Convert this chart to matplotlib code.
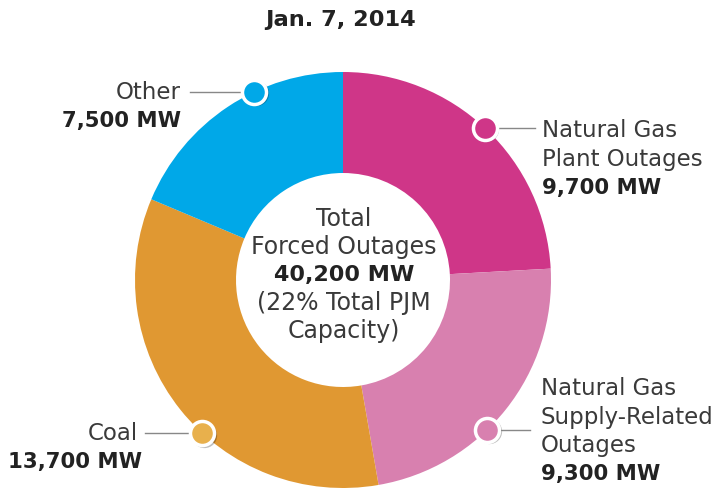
import matplotlib
matplotlib.use("Agg")
import numpy as np
import matplotlib.pyplot as plt

# data
categories = ["Natural Gas\nPlant Outages", "Natural Gas\nSupply-Related\nOutages", "Coal", "Other"]
values_mw = [9700, 9300, 13700, 7500]
value_labels = ["9,700 MW", "9,300 MW", "13,700 MW", "7,500 MW"]
total_label = "40,200 MW"
title = "Jan. 7, 2014"

colors = ["#CF3688", "#D880AF", "#E09832", "#00A8E8"]
dot_colors = ["#CF3688", "#D880AF", "#E8B04C", "#00A8E8"]

W, H = 722, 489
plt.rcParams["font.family"] = ["DejaVu Sans"]

fig = plt.figure(figsize=(W / 100, H / 100), dpi=100)
ax = fig.add_axes([0, 0, 1, 1])
ax.set_xlim(0, W)
ax.set_ylim(0, H)
ax.set_aspect("equal")
ax.axis("off")

cx, cy = 343, H - 281
R, r_in = 208, 107

ax.pie(values_mw, startangle=90, counterclock=False, radius=R, center=(cx, cy),
       colors=colors, wedgeprops=dict(width=R - r_in, linewidth=0))
ax.set_xlim(0, W)
ax.set_ylim(0, H)

# markers on the outer edge, leader lines and labels
dot_angles = [47, -46, -132.6, 115.3]
line_ends = [535, 530, 145, 190]
text_x = [542, 541, 138, 181]
align = ["left", "left", "right", "right"]
text_top = [131, 389, 434, 93]

for i in range(len(values_mw)):
    a = np.radians(dot_angles[i])
    dx, dy = cx + R * np.cos(a), cy + R * np.sin(a)
    ax.plot([dx, line_ends[i]], [dy, dy], color="#888888", lw=1, zorder=3)
    ax.scatter([dx + 1.5], [dy - 1.5], s=330, color="#000000", alpha=0.25, lw=0, zorder=4)
    ax.scatter([dx], [dy], s=300, color=dot_colors[i], edgecolors="white", linewidths=2.5, zorder=5)
    lines = categories[i].split("\n")
    y0 = H - text_top[i]
    for j, ln in enumerate(lines):
        ax.text(text_x[i], y0 - 28.5 * j, ln, ha=align[i], va="center", fontsize=16.5,
                color="#3a3a3a")
    ax.text(text_x[i] + (4 if i == 2 else 0), y0 - 28.5 * len(lines),
            value_labels[i], ha=align[i], va="center", fontsize=15.3, color="#222222",
            fontweight="bold")

# centre text
center_lines = [("Total", "normal"), ("Forced Outages", "normal"), (total_label, "bold"),
                ("(22% Total PJM", "normal"), ("Capacity)", "normal")]
for k, (t, wgt) in enumerate(center_lines):
    ax.text(cx + 1, H - 219 - 28 * k, t, ha="center", va="center",
            fontsize=17 if wgt == "normal" else 16,
            color="#3a3a3a" if wgt == "normal" else "#222222", fontweight=wgt)

ax.text(341, H - 20, title, ha="center", va="center", fontsize=16.2, fontweight="bold", color="#222222")

fig.savefig("out.png", dpi=100, facecolor="white")
